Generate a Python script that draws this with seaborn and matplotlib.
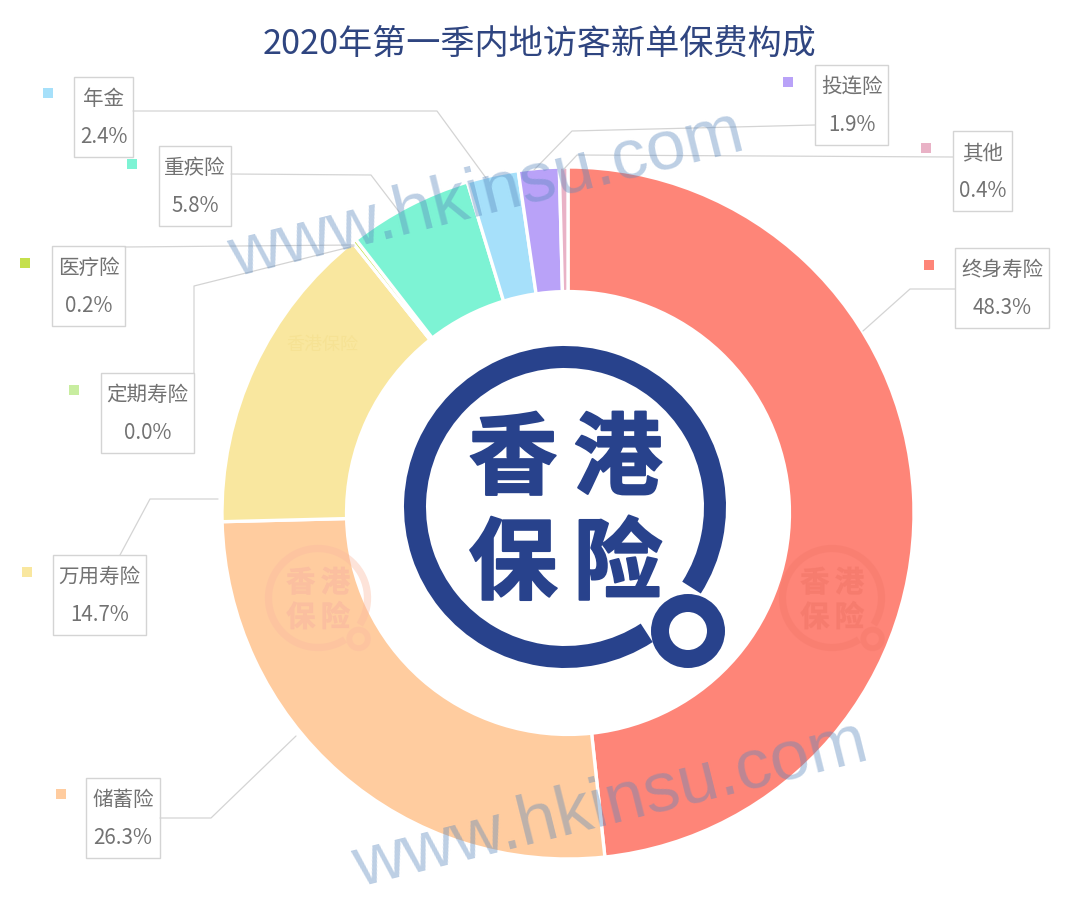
import matplotlib
matplotlib.use("Agg")
import matplotlib.pyplot as plt
import matplotlib.patheffects as pe
from matplotlib.patches import Rectangle, Wedge
import seaborn as sns

# values clockwise from 12 o'clock
categories = ["终身寿险", "储蓄险", "万用寿险", "定期寿险", "医疗险", "重疾险", "年金", "投连险", "其他"]
shares = [48.3, 26.3, 14.7, 0.0, 0.2, 5.8, 2.4, 1.9, 0.4]
slice_colors = ["#fe8578", "#ffcc9f", "#f9e79f", "#c8eda0", "#c5e04c", "#7df3d4", "#a6e0fa", "#b9a2f8", "#e9b2c6"]
title_text = "2020年第一季内地访客新单保费构成"
watermark = "www.hkinsu.com"

NAVY = "#28428c"
CENTER = (568, 513)
RADIUS = 346

# label box: x0, x1, y0 in picture pixels, square centre, leader line points
label_layout = {
    "终身寿险": ((955, 1049, 248), (929, 265), [(955, 289), (910, 289), (863, 331)]),
    "储蓄险": ((86, 160, 778), (61, 794), [(160, 818), (211, 818), (296, 736)]),
    "万用寿险": ((53, 146, 555), (27, 572), [(120, 555), (150, 499), (218, 499)]),
    "定期寿险": ((101, 194, 373), (74, 390), [(194, 373), (194, 286), (354, 246)]),
    "医疗险": ((52, 125, 246), (25, 263), [(125, 247), (354, 245)]),
    "重疾险": ((159, 231, 146), (132, 164), [(231, 174), (371, 175), (400, 213)]),
    "年金": ((74, 133, 77), (48, 93), [(133, 111), (437, 111), (486, 178)]),
    "投连险": ((815, 888, 65), (788, 82), [(815, 125), (572, 131), (534, 170)]),
    "其他": ((953, 1012, 131), (926, 148), [(953, 157), (577, 155), (563, 170)]),
}


def drawDonut(fig):
    w, h = fig.get_size_inches() * fig.dpi
    ax = fig.add_axes([(CENTER[0] - RADIUS) / w, (h - CENTER[1] - RADIUS) / h, 2 * RADIUS / w, 2 * RADIUS / h])
    palette = sns.color_palette(slice_colors)
    ax.pie(shares, colors=palette, startangle=90, counterclock=False, radius=1.0,
           wedgeprops=dict(width=0.36, edgecolor="white", linewidth=2.4))
    ax.set_xlim(-1, 1)
    ax.set_ylim(-1, 1)


def drawLabels(ax):
    for name, value, color in zip(categories, shares, slice_colors):
        (x0, x1, y0), square, leader = label_layout[name]
        ax.add_patch(Rectangle((x0, y0), x1 - x0, 80, fill=False, edgecolor="#d4d4d4", linewidth=1.0))
        ax.add_patch(Rectangle((square[0] - 5, square[1] - 5), 10, 10, facecolor=color, edgecolor="none"))
        ax.plot([p[0] for p in leader], [p[1] for p in leader], color="#d4d4d4", linewidth=0.9)
        cx = (x0 + x1) / 2
        ax.text(cx, y0 + 22, name, ha="center", va="center", fontsize=14.8, color="#727272")
        ax.text(cx, y0 + 60, "{:.1f}%".format(value), ha="center", va="center", fontsize=14.8, color="#727272")


def drawLogo(ax, cx, cy, scale, color, alpha=1.0):
    # y axis runs downward here, so the gap at lower right is 32 to 57 degrees
    ax.add_patch(Wedge((cx, cy), 161 * scale, 57, 392.5, width=22 * scale, facecolor=color, edgecolor="none", alpha=alpha))
    ax.add_patch(Wedge((cx + 123 * scale, cy + 124 * scale), 37 * scale, 0, 360, width=18 * scale,
                       facecolor=color, edgecolor="none", alpha=alpha))
    glyphs = [("香", -52, -46), ("港", 53, -46), ("保", -52, 59), ("险", 53, 59)]
    for ch, dx, dy in glyphs:
        t = ax.text(cx + dx * scale, cy + dy * scale, ch, ha="center", va="center", fontsize=64 * scale,
                    fontweight="bold", color=color, alpha=alpha)
        t.set_path_effects([pe.withStroke(linewidth=1.5 * scale, foreground=color, alpha=alpha)])


def main():
    sns.set_theme(style="white")
    plt.rcParams["font.family"] = ["Noto Sans CJK SC", "DejaVu Sans"]

    fig = plt.figure(figsize=(10.8, 9.21), dpi=100, facecolor="white")
    drawDonut(fig)

    # overlay in picture pixels for everything around the ring
    overlay = fig.add_axes([0, 0, 1, 1])
    overlay.set_xlim(0, 1080)
    overlay.set_ylim(921, 0)
    overlay.axis("off")
    overlay.patch.set_alpha(0)

    overlay.text(540, 44, title_text, ha="center", va="center", fontsize=24.6, color="#2f4580")

    drawLabels(overlay)
    drawLogo(overlay, 565, 507, 1.0, NAVY)

    # pale logos printed into the ring
    drawLogo(overlay, 318, 598, 0.33, "#fab9a0", alpha=0.4)
    drawLogo(overlay, 832, 598, 0.33, "#f57a6c", alpha=0.5)
    overlay.text(322, 345, "香港保险", ha="center", va="center", fontsize=13, color="#f6e294")

    # watermarks
    for x, y in [(487, 195), (611, 805)]:
        overlay.text(x, y, watermark, ha="center", va="center", rotation=14, rotation_mode="anchor",
                     fontsize=51, family="Liberation Sans", color="#5a88bd", alpha=0.4)

    fig.savefig("out.png", dpi=100, facecolor="white")


if __name__ == "__main__":
    main()
